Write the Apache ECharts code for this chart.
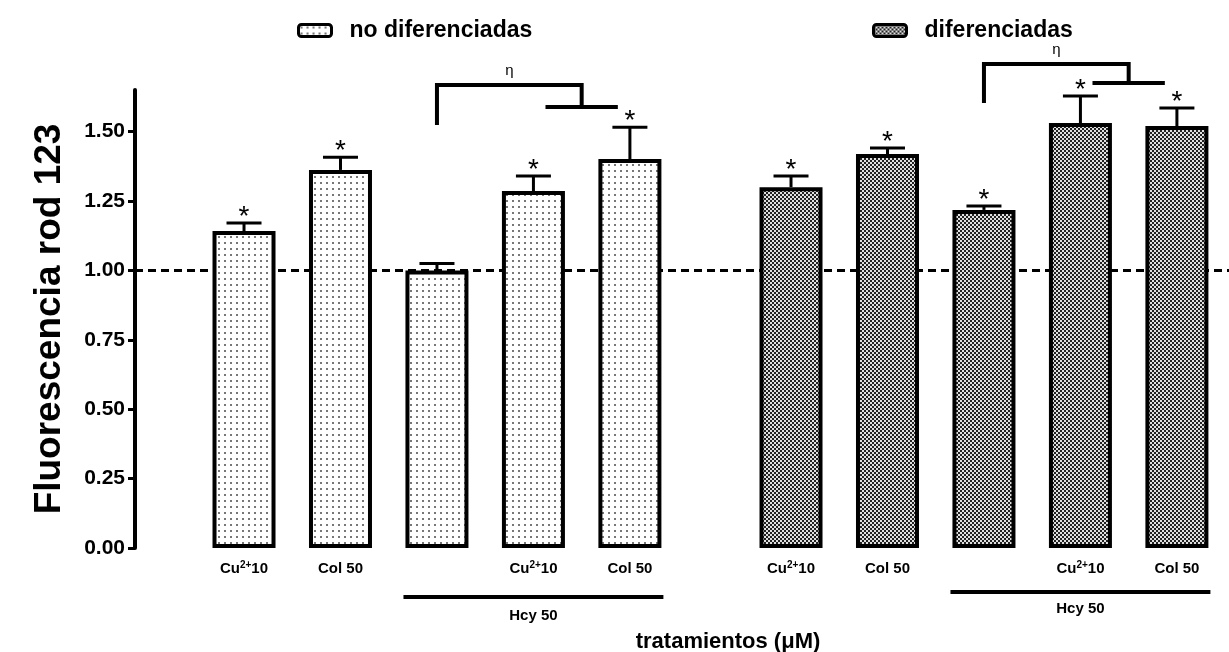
<!DOCTYPE html>
<html><head><meta charset="utf-8">
<script src="https://cdn.jsdelivr.net/npm/echarts@6/dist/echarts.min.js"></script>
<style>html,body{margin:0;padding:0;background:#fff}#c{width:1229px;height:652px}</style>
</head><body><div id="c"></div>
<script>
// ---------------- data ----------------
const categories = ['Cu2+10', 'Col 50', '', 'Cu2+10', 'Col 50'];
const seriesNames = ['no diferenciadas', 'diferenciadas'];
const noDifValues = [1.142, 1.362, 1.000, 1.286, 1.401];
const noDifErrors = [0.029, 0.046, 0.025, 0.054, 0.115];
const noDifStars  = [1, 1, 0, 1, 1];
const difValues   = [1.300, 1.419, 1.218, 1.531, 1.520];
const difErrors   = [0.040, 0.022, 0.014, 0.097, 0.065];
const difStars    = [1, 1, 1, 1, 1];
const yTicks = [0, 0.25, 0.5, 0.75, 1.0, 1.25, 1.5];
const refValue = 1.0;
const groupLabel = 'Hcy 50';
const groupSpan = [2, 4];          // bars covered by the "Hcy 50" line
const xTitle = 'tratamientos (\u03bcM)';
const yTitle = 'Fluorescencia rod 123';
const sigMark = '\u03b7';
// significance brackets: leg on bar "from", joined to the pair "to", levels in data units
const brackets = [
  {from: 2, to: [3, 4], legBottom: 1.524, top: 1.668, drop: 1.589},
  {from: 2, to: [3, 4], legBottom: 1.603, top: 1.744, drop: 1.675}
];

// ---------------- layout ----------------
const GROUP2_START = 5.67;
const X_MIN = -1.13, X_MAX = 10.21;
const FONT = '"Liberation Sans", Arial, Helvetica, sans-serif';
const NARROW = '"Liberation Sans Narrow", "Liberation Sans", Arial, sans-serif';
const BAR_W = 63, BAR_HALF = 33.5, CAP = 17.5;

const pos1 = categories.map((c, i) => i);
const pos2 = categories.map((c, i) => GROUP2_START + i);

function dotPattern() {
  const c = document.createElement('canvas'); c.width = 6; c.height = 6;
  const g = c.getContext('2d');
  g.fillStyle = '#fff'; g.fillRect(0, 0, 6, 6);
  g.fillStyle = '#777'; g.fillRect(2, 2, 2, 2);
  return c;
}
function checkPattern() {
  const c = document.createElement('canvas'); c.width = 4; c.height = 4;
  const g = c.getContext('2d');
  g.fillStyle = '#222'; g.fillRect(0, 0, 4, 4);
  g.fillStyle = '#e0e0e0'; g.fillRect(0, 0, 2, 2); g.fillRect(2, 2, 2, 2);
  return c;
}
const fills = [{image: dotPattern(), repeat: 'repeat'}, {image: checkPattern(), repeat: 'repeat'}];

const labelPositions = [], labelTexts = [];
[pos1, pos2].forEach(ps => ps.forEach((p, i) => {
  if (categories[i]) { labelPositions.push(p); labelTexts.push(categories[i]); }
}));

function errData(pos, vals, errs, stars) {
  return pos.map((p, i) => [p, vals[i], errs[i], stars[i]]);
}

const chart = echarts.init(document.getElementById('c'));
const option = {
  backgroundColor: '#fff',
  animation: false,
  grid: {left: 135, right: 0, top: 90, bottom: 104, containLabel: false, outerBoundsMode: 'none'},
  legend: [0, 1].map(k => ({
    data: [seriesNames[k]], left: k ? 867 : 292, top: 14,
    itemWidth: 33, itemHeight: 12, selectedMode: false,
    itemStyle: {borderColor: '#000', borderWidth: 3},
    textStyle: {fontSize: 23, fontWeight: 'bold', color: '#000', fontFamily: FONT, padding: [0, 0, 0, 13]}
  })),
  xAxis: {
    type: 'value', min: X_MIN, max: X_MAX,
    axisLine: {show: false, onZero: false}, axisTick: {show: false}, splitLine: {show: false},
    axisLabel: {
      customValues: labelPositions, margin: 12,
      formatter: v => {
        let k = 0, best = 1e9;
        labelPositions.forEach((p, i) => { const d = Math.abs(p - v); if (d < best) { best = d; k = i; } });
        const t = labelTexts[k];
        return '{b|' + t.replace(/(\d\+)/, '}{s|$1}{b|') + '}';
      },
      rich: {
        b: {fontSize: 15, fontWeight: 'bold', fontFamily: FONT, color: '#000', lineHeight: 18},
        s: {fontSize: 10, fontWeight: 'bold', fontFamily: FONT, color: '#000', lineHeight: 10, verticalAlign: 'top'}
      }
    },
    name: xTitle, nameLocation: 'middle', nameGap: 83,
    nameTextStyle: {fontSize: 22, fontWeight: 'bold', color: '#000', fontFamily: FONT, padding: [0, 0, 0, 92]}
  },
  yAxis: {
    type: 'value', min: 0, max: 1.65,
    axisLine: {show: true, onZero: false, lineStyle: {color: '#000', width: 4}},
    axisTick: {show: true, customValues: yTicks, length: 7, lineStyle: {color: '#000', width: 3}},
    axisLabel: {customValues: yTicks, formatter: v => v.toFixed(2), margin: 10,
      fontSize: 21, fontWeight: 'bold', color: '#000', fontFamily: NARROW},
    splitLine: {show: false},
    name: yTitle, nameLocation: 'middle', nameGap: 67, nameRotate: 90,
    nameTextStyle: {fontSize: 37, fontWeight: 'bold', color: '#000', fontFamily: FONT}
  },
  series: [
    {
      type: 'line', name: 'ref', z: 1, silent: true, symbol: 'none',
      data: [[X_MIN, refValue], [X_MAX, refValue]],
      lineStyle: {color: '#000', width: 3, type: [8, 5]}
    },
    ...[0, 1].map(k => ({
      type: 'bar', name: seriesNames[k], z: 2, barWidth: BAR_W, barGap: '-100%',
      data: (k ? pos2 : pos1).map((p, i) => [p, (k ? difValues : noDifValues)[i]]),
      itemStyle: {color: fills[k], borderColor: '#000', borderWidth: 4}
    })),
    ...[0, 1].map(k => ({
      type: 'custom', name: 'err' + k, z: 3, silent: true,
      encode: {x: 0, y: 1},
      data: k ? errData(pos2, difValues, difErrors, difStars) : errData(pos1, noDifValues, noDifErrors, noDifStars),
      renderItem: (params, api) => {
        const x = api.value(0), v = api.value(1), e = api.value(2), s = api.value(3);
        const p0 = api.coord([x, v]), p1 = api.coord([x, v + e]);
        const ch = [
          {type: 'line', shape: {x1: p0[0], y1: p0[1], x2: p1[0], y2: p1[1]}, style: {stroke: '#000', lineWidth: 3}},
          {type: 'line', shape: {x1: p1[0] - CAP, y1: p1[1], x2: p1[0] + CAP, y2: p1[1]}, style: {stroke: '#000', lineWidth: 3}}
        ];
        if (s) ch.push({type: 'text', x: p1[0], y: p1[1] - 6,
          style: {text: '*', fontSize: 28, fontFamily: FONT, fill: '#000', align: 'center', verticalAlign: 'middle'}});
        return {type: 'group', children: ch};
      }
    })),
    {
      type: 'custom', name: 'annot', z: 3, silent: true, clip: false,
      data: [[0, 0]],
      renderItem: (params, api) => {
        const ch = [];
        const base = api.coord([0, 0])[1];
        const lineOff = [49, 44], labOff = [68, 61];
        [pos1, pos2].forEach((ps, g) => {
          const xl = api.coord([ps[groupSpan[0]], 0])[0] - BAR_HALF;
          const xr = api.coord([ps[groupSpan[1]], 0])[0] + BAR_HALF;
          ch.push({type: 'line', shape: {x1: xl, y1: base + lineOff[g], x2: xr, y2: base + lineOff[g]}, style: {stroke: '#000', lineWidth: 4}});
          ch.push({type: 'text', x: (xl + xr) / 2, y: base + labOff[g],
            style: {text: groupLabel, fontSize: 15, fontWeight: 'bold', fontFamily: FONT, fill: '#000', align: 'center', verticalAlign: 'middle'}});
          const b = brackets[g];
          const leg = ps[b.from], mid = (ps[b.to[0]] + ps[b.to[1]]) / 2;
          const pts = [[leg, b.legBottom], [leg, b.top], [mid, b.top], [mid, b.drop]].map(p => api.coord(p));
          ch.push({type: 'polyline', shape: {points: pts}, style: {stroke: '#000', lineWidth: 4, fill: null}});
          const a = api.coord([mid - 0.375, b.drop]), c = api.coord([mid + 0.375, b.drop]);
          ch.push({type: 'line', shape: {x1: a[0], y1: a[1], x2: c[0], y2: c[1]}, style: {stroke: '#000', lineWidth: 4}});
          const t = api.coord([(leg + mid) / 2, b.top]);
          ch.push({type: 'text', x: t[0], y: t[1] - 14,
            style: {text: sigMark, fontSize: 15, fontFamily: FONT, fill: '#000', align: 'center', verticalAlign: 'middle'}});
        });
        return {type: 'group', children: ch};
      }
    }
  ]
};
chart.setOption(option);
</script>
</body></html>
